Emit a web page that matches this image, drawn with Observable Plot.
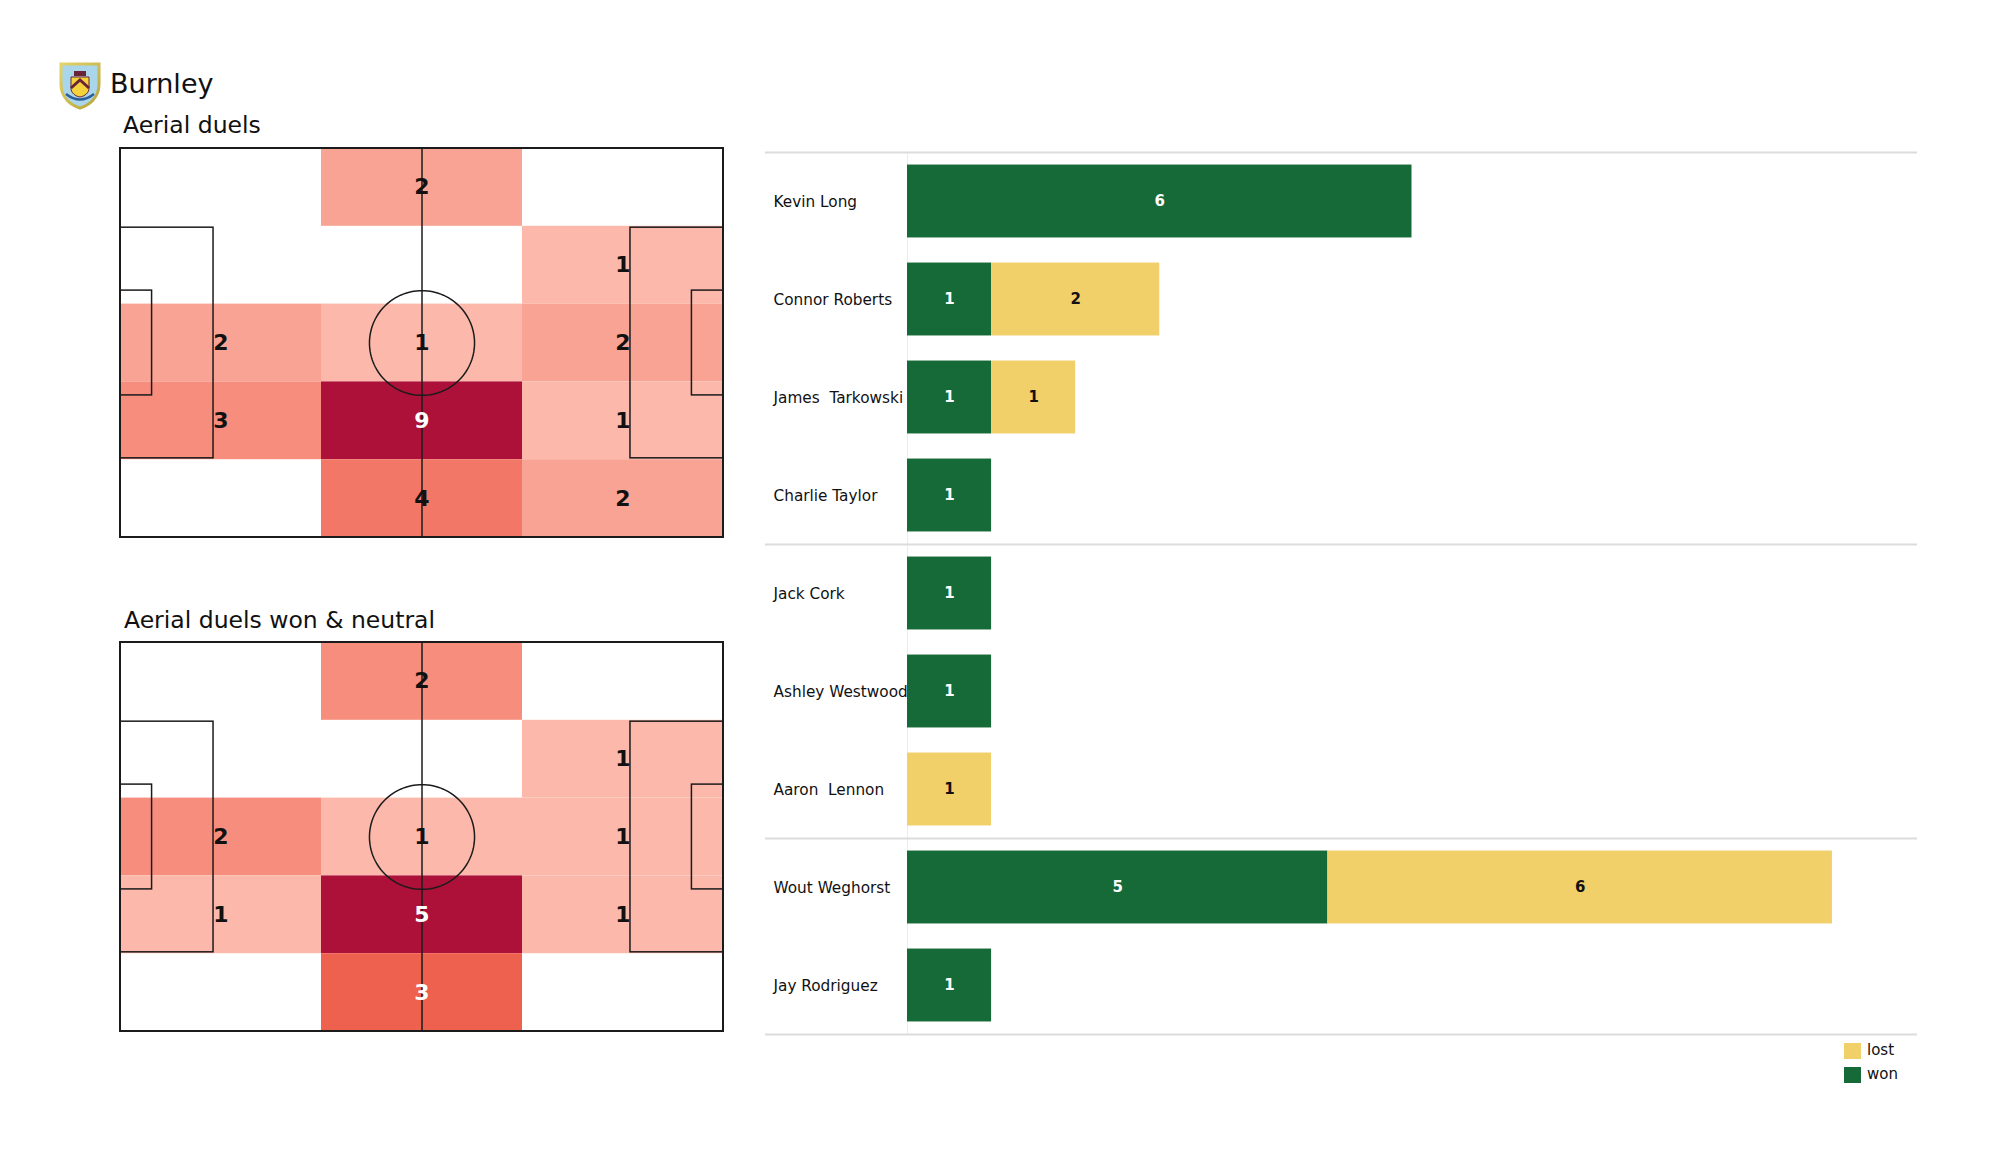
<!DOCTYPE html>
<html><head><meta charset="utf-8">
<script src="https://cdn.jsdelivr.net/npm/d3@7"></script>
<script src="https://cdn.jsdelivr.net/npm/@observablehq/plot@0.6"></script>
<style>
html,body{margin:0;padding:0;background:#fff;}
#root{position:relative;width:2000px;height:1175px;overflow:hidden;font-family:"DejaVu Sans",sans-serif;color:#111;}
.abs{position:absolute;line-height:1;white-space:pre;}
svg text{white-space:pre;}
</style></head><body><div id="root"></div>
<script>
// ---------- data ----------
const teamName = "Burnley";
const pitchTitles = ["Aerial duels", "Aerial duels won & neutral"];
// counts per zone, rows top -> bottom, columns left -> right
const gridAll = [[0,2,0],[0,0,1],[2,1,2],[3,9,1],[0,4,2]];
const gridWon = [[0,2,0],[0,0,1],[2,1,1],[1,5,1],[0,3,0]];
const players = ["Kevin Long","Connor Roberts","James  Tarkowski","Charlie Taylor","Jack Cork","Ashley Westwood","Aaron  Lennon","Wout Weghorst","Jay Rodriguez"];
const won  = [6,1,1,1,1,1,0,5,1];
const lost = [0,2,1,0,0,0,1,6,0];
const groupSizes = [4,3,2];
const seriesNames = ["won","lost"];
const legendOrder = ["lost","won"];
const seriesColors = ["#156a38","#f1cf69"];
const heatColors = ["#fcb9ab","#ef614f","#ad1038"];
// pitch geometry (metres)
const L = 105, W = 68, boxD = 16.2, boxW = 40.32, goalD = 5.5, goalW = 18.32, circR = 9.15;

const root = document.getElementById("root");
function addText(txt, x, baseline, fs){
  const d = document.createElement("div");
  d.className = "abs"; d.textContent = txt;
  d.style.left = x + "px"; d.style.top = (baseline - 0.846*fs) + "px"; d.style.fontSize = fs + "px";
  root.appendChild(d); return d;
}
function place(el, x, y){ el.style.position = "absolute"; el.style.left = x+"px"; el.style.top = y+"px"; root.appendChild(el); }

// logo
const logo = document.createElement("div");
logo.innerHTML = `<svg width="44" height="49" viewBox="0 0 44 49">
<defs><linearGradient id="g" x1="0" y1="0" x2="1" y2="1"><stop offset="0" stop-color="#e3d36a"/><stop offset="1" stop-color="#b7a53a"/></linearGradient></defs>
<path d="M3,3 H41 V23 C41,37 31,44 22,47 C13,44 3,37 3,23 Z" fill="#a9d6ea" stroke="url(#g)" stroke-width="3"/>
<path d="M13,16 H31 V27 C31,32 27,35 22,36 C17,35 13,32 13,27 Z" fill="#f3d23c" stroke="#6b2436" stroke-width="1"/>
<path d="M13,27 L22,19 L31,27" fill="none" stroke="#6b2436" stroke-width="3"/>
<rect x="16" y="10" width="12" height="5" fill="#6b2436"/>
<path d="M8,33 Q22,44 36,33" fill="none" stroke="#2e5d9a" stroke-width="2.5"/>
</svg>`;
place(logo, 58, 61);
addText(teamName, 110, 93, 27);
addText(pitchTitles[0], 123, 134, 23.5);
addText(pitchTitles[1], 124, 629, 23.5);

// ---------- pitches ----------
function makePitch(grid){
  const rows = grid.length, cols = grid[0].length;
  const cw = L/cols, rh = W/rows;
  const cells = [];
  grid.forEach((r,i)=>r.forEach((v,j)=>{ if(v>0) cells.push({row:i,col:j,v}); }));
  const max = d3.max(cells, d=>d.v), min = 1;
  const mid = (min+max)/2;
  const isDark = d => (d.v-min)/(max-min) >= 0.5;
  const circle = d3.range(0,361,3).map(a=>({x:L/2+circR*Math.cos(a*Math.PI/180), y:W/2+circR*Math.sin(a*Math.PI/180)}));
  const boxes = [
    {x1:0, x2:boxD, y1:W/2-boxW/2, y2:W/2+boxW/2},
    {x1:L-boxD, x2:L, y1:W/2-boxW/2, y2:W/2+boxW/2},
    {x1:0, x2:goalD, y1:W/2-goalW/2, y2:W/2+goalW/2},
    {x1:L-goalD, x2:L, y1:W/2-goalW/2, y2:W/2+goalW/2}
  ];
  const line = "#1b1b1b";
  const cx = d=>(d.col+0.5)*cw, cy = d=>(d.row+0.5)*rh;
  return Plot.plot({
    width: 611, height: 397, margin: 4,
    style: {fontFamily: "DejaVu Sans", background: "transparent"},
    x: {domain:[0,L], range:[4,607], axis:null},
    y: {domain:[0,W], range:[4,393], axis:null},
    color: {type:"linear", domain:[min,mid,max], range: heatColors},
    marks: [
      Plot.rect(cells, {x1:d=>d.col*cw, x2:d=>(d.col+1)*cw, y1:d=>d.row*rh, y2:d=>(d.row+1)*rh, fill:"v"}),
      Plot.rect(boxes, {x1:"x1", x2:"x2", y1:"y1", y2:"y2", fill:"none", stroke:line, strokeWidth:1.5}),
      Plot.ruleX([L/2], {y1:0, y2:W, stroke:line, strokeWidth:1.5}),
      Plot.line(circle, {x:"x", y:"y", stroke:line, strokeWidth:1.5}),
      Plot.rect([{x1:0,x2:L,y1:0,y2:W}], {x1:"x1", x2:"x2", y1:"y1", y2:"y2", fill:"none", stroke:line, strokeWidth:2}),
      Plot.text(cells.filter(d=>!isDark(d)), {x:cx, y:cy, text:"v", fill:"#111", fontWeight:"bold", fontSize:22}),
      Plot.text(cells.filter(isDark), {x:cx, y:cy, text:"v", fill:"white", fontWeight:"bold", fontSize:22})
    ]
  });
}
place(makePitch(gridAll), 116, 144);
place(makePitch(gridWon), 116, 638);

// ---------- bars ----------
const segs = [];
players.forEach((p,i)=>{
  let x0 = 0;
  [won[i], lost[i]].forEach((v,k)=>{
    if (v>0) segs.push({p, i, type:seriesNames[k], v, x1:x0, x2:x0+v});
    x0 += v;
  });
});
const bounds = [0]; groupSizes.forEach(s=>bounds.push(bounds[bounds.length-1]+s));
const xMax = d3.max(players, (p,i)=>won[i]+lost[i]) + 1;
const pad = 0.128;
const bars = Plot.plot({
  width: 1200, height: 900, marginLeft: 25, marginRight: 23, marginTop: 12, marginBottom: 6,
  style: {fontFamily: "DejaVu Sans", background: "transparent"},
  x: {domain:[0,xMax], range:[167,1176], axis:null},
  y: {domain:[0,players.length], range:[12,894], axis:null},
  color: {domain: seriesNames, range: seriesColors},
  marks: [
    Plot.ruleX([0], {y1:0, y2:players.length, stroke:"#ececec", strokeWidth:1}),
    Plot.ruleY(bounds, {stroke:"#dcdcdc", strokeWidth:2}),
    Plot.rect(segs, {x1:"x1", x2:"x2", y1:d=>d.i+pad, y2:d=>d.i+1-pad, fill:"type"}),
    Plot.text(segs.filter(d=>d.type==="won"), {x:d=>(d.x1+d.x2)/2, y:d=>d.i+0.5, text:"v", fill:"white", fontWeight:"bold", fontSize:15}),
    Plot.text(segs.filter(d=>d.type==="lost"), {x:d=>(d.x1+d.x2)/2, y:d=>d.i+0.5, text:"v", fill:"#111", fontWeight:"bold", fontSize:15}),
    Plot.text(players, {y:(d,i)=>i+0.5, text:d=>d, frameAnchor:"left", textAnchor:"start", dx:8, dy:1, fill:"#111", fontSize:15.3})
  ]
});
place(bars, 740, 140);

// legend
legendOrder.forEach((name,k)=>{
  const c = seriesColors[seriesNames.indexOf(name)];
  const sw = document.createElement("div");
  sw.style.width = "17px"; sw.style.height = "16px"; sw.style.background = c;
  place(sw, 1844, 1043 + k*24);
  addText(name, 1867, 1056 + k*24, 15);
});
</script></body></html>
